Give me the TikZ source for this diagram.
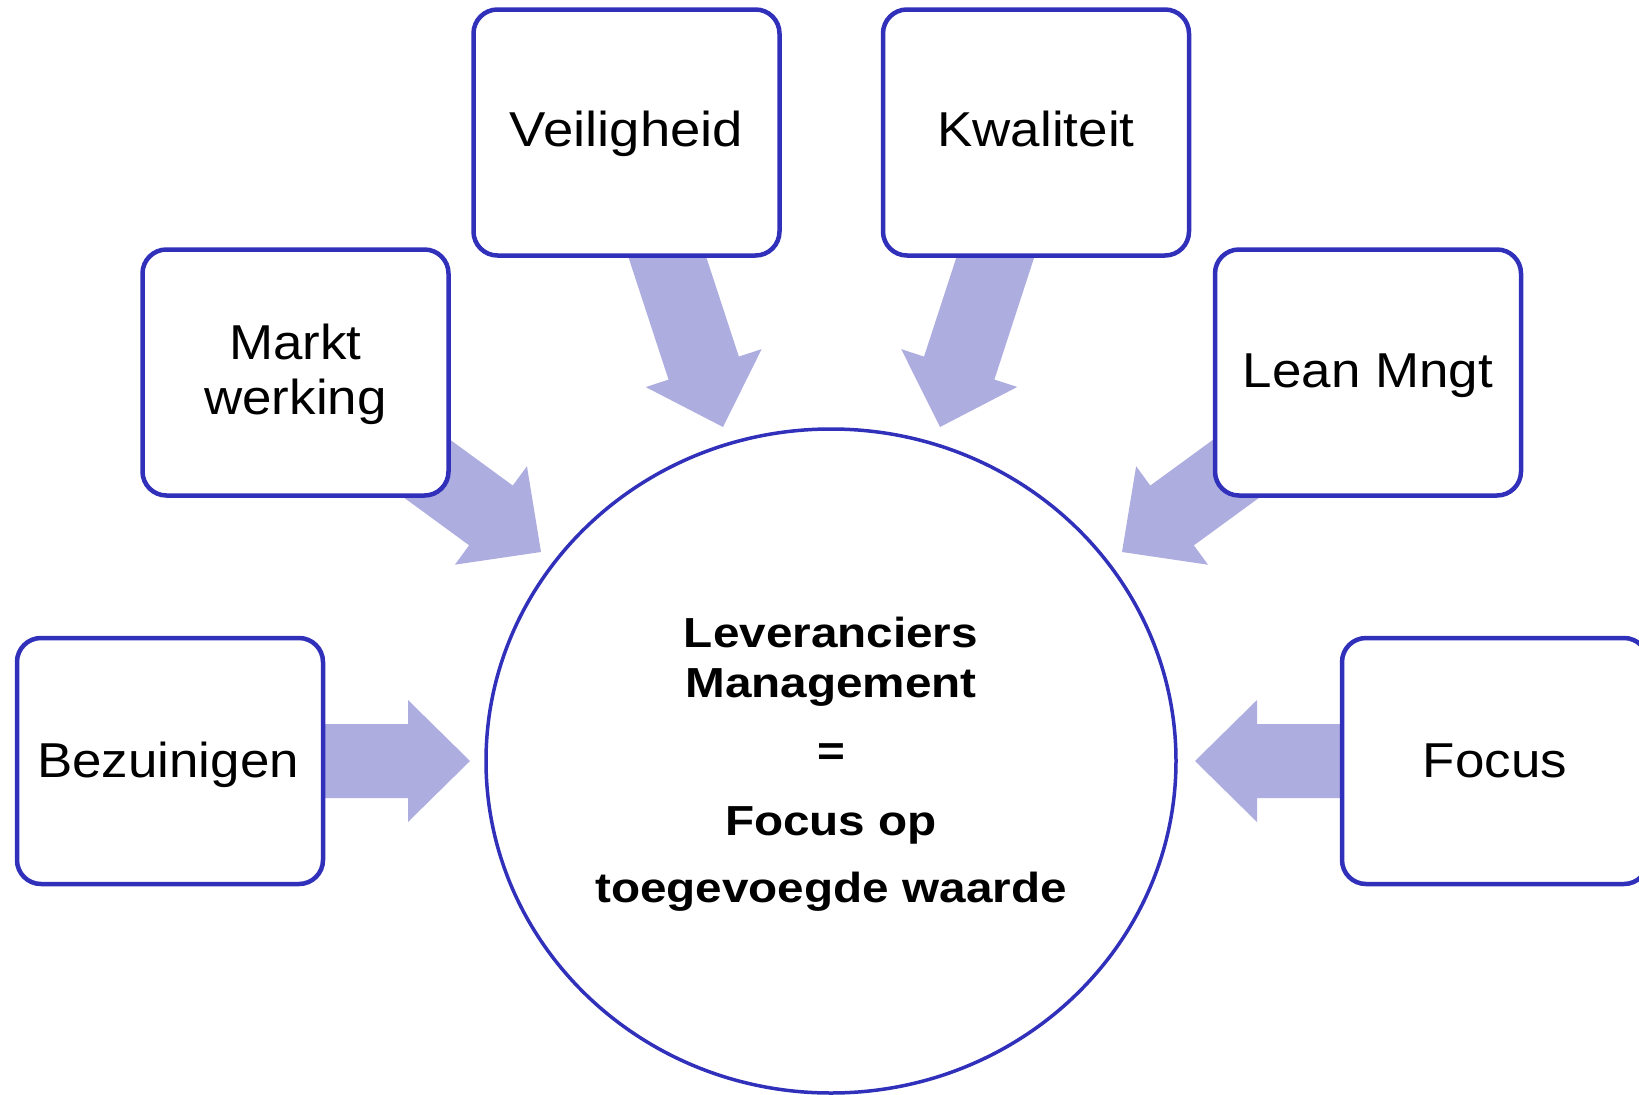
\documentclass[tikz,border=0pt]{standalone}
\usepackage{fontspec}
\usetikzlibrary{calc,shapes.geometric}
\newfontfamily\boxfont[FakeStretch=1.08]{Liberation Sans}
\newfontfamily\ctrfont[FakeStretch=1.135]{Liberation Sans}
\definecolor{bordblue}{RGB}{48,48,186}
\definecolor{arrfill}{RGB}{173,173,224}
\newcommand{\blockarrow}[2]{%
  \coordinate (hb) at ($(#2)!62pt!(#1)$);
  \fill[arrfill] ($(#1)!37pt!90:(#2)$) -- ($(hb)!37pt!90:(#2)$) -- ($(hb)!61pt!90:(#2)$)
    -- (#2) -- ($(hb)!61pt!-90:(#2)$) -- ($(hb)!37pt!-90:(#2)$) -- ($(#1)!37pt!-90:(#2)$) -- cycle;}
\begin{document}
\begin{tikzpicture}[x=1pt,y=-1pt,
  box/.style={draw=bordblue, line width=4.5pt, rounded corners=24pt, fill=white,
    minimum width=306pt, minimum height=246pt, inner sep=0pt},
  lbl/.style={anchor=base, inner sep=0pt, font=\boxfont\fontsize{49}{55}\selectfont, align=center},
  ctr/.style={anchor=base, inner sep=0pt, font=\ctrfont\bfseries\fontsize{42}{50}\selectfont}]
\useasboundingbox (0,0) rectangle (1639,1095);
% anchor coordinates of boxes and arrow tips
\coordinate (cveil) at (626.5,132.5);
\coordinate (ckwal) at (1036,132.5);
\coordinate (cmarkt) at (295.5,372.5);
\coordinate (clean) at (1368,372.5);
\coordinate (cbez) at (170,761);
\coordinate (cfoc) at (1495,761);
\coordinate (tveil) at (723,427);
\coordinate (tkwal) at (940,427);
\coordinate (tmarkt) at (541,552);
\coordinate (tlean) at (1122,552);
\coordinate (tbez) at (470,761);
\coordinate (tfoc) at (1195,761);
% arrows
\blockarrow{cveil}{tveil}
\blockarrow{ckwal}{tkwal}
\blockarrow{cmarkt}{tmarkt}
\blockarrow{clean}{tlean}
\blockarrow{cbez}{tbez}
\blockarrow{cfoc}{tfoc}
% boxes
\node[box] (veil) at (cveil) {};
\node[box] (kwal) at (ckwal) {};
\node[box] (markt) at (cmarkt) {};
\node[box] (lean) at (clean) {};
\node[box] (bez) at (cbez) {};
\node[box] (foc) at (cfoc) {};
% circle
\node[draw=bordblue, line width=3.5pt, ellipse, minimum width=690pt, minimum height=664pt, inner sep=0pt] (circ) at (831,761) {};
% labels
\node[lbl] (veilt) at (626.5,146) {\scalebox{1.03}[1]{Veiligheid}};
\node[lbl] (kwalt) at (1036,146) {Kwaliteit};
\node[lbl] (marktt1) at (295.5,359) {Markt};
\node[lbl] (marktt2) at (295.5,414) {werking};
\node[lbl] (leant) at (1368,387) {Lean Mngt};
\node[lbl] (bezt) at (168,777) {Bezuinigen};
\node[lbl] (foct) at (1495,777) {Focus};
\node[ctr] (c1) at (831,647) {Leveranciers};
\node[ctr] (c2) at (831,697) {Management};
\node[ctr] (c3) at (831,765) {=};
\node[ctr] (c4) at (831,835) {Focus op};
\node[ctr] (c5) at (831,902) {toegevoegde waarde};
\end{tikzpicture}
\end{document}
